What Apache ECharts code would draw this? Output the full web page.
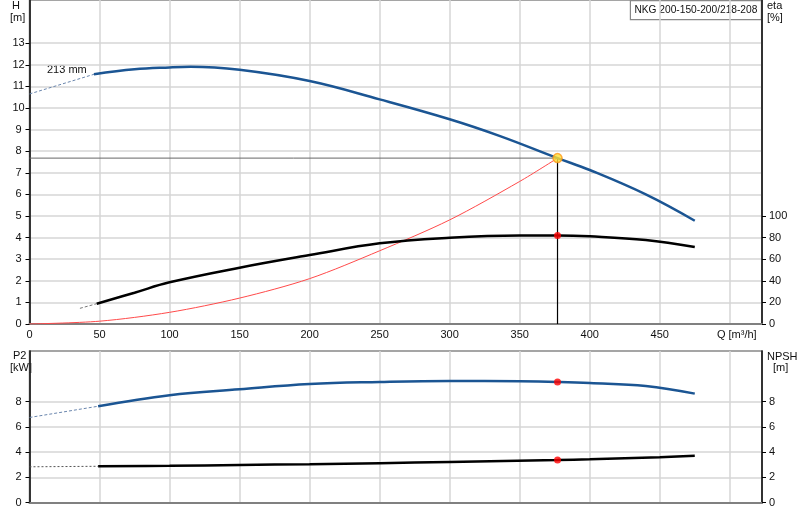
<!DOCTYPE html>
<html>
<head>
<meta charset="utf-8">
<script src="https://cdn.jsdelivr.net/npm/echarts@6/dist/echarts.min.js"></script>
<style>
  html, body { margin: 0; padding: 0; background: #fff; }
  #chart { width: 800px; height: 520px; }
</style>
</head>
<body>
<div id="chart"></div>
<script>
// pump curve data, Q in m3/h
var qH = [46, 75, 100, 115, 150, 200, 250, 300, 336, 377, 400, 440, 475];
var hVal = [11.56, 11.79, 11.88, 11.91, 11.77, 11.25, 10.4, 9.48, 8.7, 7.68, 7.13, 6.0, 4.78];
var qHExt = [0, 46];
var hExt = [10.65, 11.56];

var qEta = [48, 75, 100, 150, 200, 250, 300, 350, 377, 400, 440, 475];
var etaVal = [18.8, 29, 38.6, 52.1, 63.8, 74.7, 79.9, 82, 82, 81.2, 77.8, 71.3];
var qEtaExt = [36, 48];
var etaExt = [14.5, 18.8];

var qSys = [0, 50, 100, 150, 200, 250, 300, 350, 377];
var hSys = [0, 0.13, 0.54, 1.2, 2.1, 3.39, 4.82, 6.6, 7.68];

var qP2 = [49, 100, 150, 200, 250, 300, 350, 377, 400, 440, 475];
var p2Val = [7.63, 8.5, 8.97, 9.39, 9.55, 9.63, 9.6, 9.55, 9.47, 9.24, 8.63];
var qP2Ext = [0, 49];
var p2Ext = [6.74, 7.63];

var qNpsh = [49, 100, 150, 200, 250, 300, 377, 400, 450, 475];
var npshVal = [2.88, 2.92, 2.98, 3.05, 3.13, 3.22, 3.37, 3.43, 3.6, 3.71];
var qNpshExt = [0, 49];
var npshExt = [2.84, 2.88];

// duty point
var dutyQ = 377, dutyH = 7.68, dutyEta = 82, dutyP2 = 9.55, dutyNpsh = 3.37;

var hTicks = [0, 1, 2, 3, 4, 5, 6, 7, 8, 9, 10, 11, 12, 13];
var etaTicks = [0, 20, 40, 60, 80, 100];
var lowTicks = [0, 2, 4, 6, 8];

function pairs(xs, ys) {
    var res = [];
    for (var i = 0; i < xs.length; i++) res.push([xs[i], ys[i]]);
    return res;
}

var FONT = '"Liberation Sans", Arial, sans-serif';
var BLUE = '#1b5593';
var gridLine = { show: true, lineStyle: { color: '#d6d6d6', width: 1.5 } };
var lbl = { color: '#111', fontSize: 11, fontFamily: FONT };

var myChart = echarts.init(document.getElementById('chart'));
var option = {
    animation: false,
    grid: [
        { left: 29.5, right: 38, top: 0, height: 324, show: true, borderColor: '#888', borderWidth: 1.5 },
        { left: 29.5, right: 38, top: 351, height: 151.7, show: true, borderColor: '#888', borderWidth: 1.5 }
    ],
    xAxis: [
        {
            gridIndex: 0, type: 'value', min: 0, max: 523, interval: 50,
            axisLine: { lineStyle: { color: '#808080', width: 2 } },
            axisTick: { show: false },
            splitLine: gridLine,
            axisLabel: Object.assign({}, lbl, {
                margin: 5,
                customValues: [0, 50, 100, 150, 200, 250, 300, 350, 400, 450, 505],
                formatter: function (v) {
                    if (v > 450) return 'Q [m³/h]';
                    return v % 50 === 0 ? v : '';
                }
            })
        },
        {
            gridIndex: 1, type: 'value', min: 0, max: 523, interval: 50,
            axisLine: { lineStyle: { color: '#808080', width: 2 } },
            axisTick: { show: false },
            axisLabel: { show: false },
            splitLine: gridLine
        }
    ],
    yAxis: [
        {
            gridIndex: 0, type: 'value', min: 0, max: 15, interval: 1, position: 'left',
            axisLine: { show: true, lineStyle: { color: '#000', width: 1.5 } },
            axisTick: { show: true, length: 4, lineStyle: { color: '#000' }, customValues: hTicks },
            axisLabel: Object.assign({}, lbl, {
                margin: 11, align: 'center', customValues: hTicks,
                formatter: function (v) { return v <= 13 ? v : ''; }
            }),
            splitLine: gridLine
        },
        {
            gridIndex: 0, type: 'value', min: 0, max: 300, interval: 20, position: 'right',
            axisLine: { show: true, lineStyle: { color: '#000', width: 1.5 } },
            axisTick: { show: true, length: 4, lineStyle: { color: '#000' }, customValues: etaTicks },
            axisLabel: Object.assign({}, lbl, {
                margin: 7, customValues: etaTicks,
                formatter: function (v) { return v <= 100 ? v : ''; }
            }),
            splitLine: { show: false }
        },
        {
            gridIndex: 1, type: 'value', min: 0, max: 12, interval: 2, position: 'left',
            axisLine: { show: true, lineStyle: { color: '#000', width: 1.5 } },
            axisTick: { show: true, length: 4, lineStyle: { color: '#000' }, customValues: lowTicks },
            axisLabel: Object.assign({}, lbl, {
                margin: 11, align: 'center', customValues: lowTicks,
                formatter: function (v) { return v <= 8 ? v : ''; }
            }),
            splitLine: gridLine
        },
        {
            gridIndex: 1, type: 'value', min: 0, max: 12, interval: 2, position: 'right',
            axisLine: { show: true, lineStyle: { color: '#000', width: 1.5 } },
            axisTick: { show: true, length: 4, lineStyle: { color: '#000' }, customValues: lowTicks },
            axisLabel: Object.assign({}, lbl, {
                margin: 7, customValues: lowTicks,
                formatter: function (v) { return v <= 8 ? v : ''; }
            }),
            splitLine: { show: false }
        }
    ],
    graphic: [
        { type: 'text', left: 12, top: 0, style: { text: 'H', font: '11px ' + FONT, fill: '#111' } },
        { type: 'text', left: 10, top: 12, style: { text: '[m]', font: '11px ' + FONT, fill: '#111' } },
        { type: 'text', left: 767, top: 0, style: { text: 'eta', font: '11px ' + FONT, fill: '#111' } },
        { type: 'text', left: 767, top: 12, style: { text: '[%]', font: '11px ' + FONT, fill: '#111' } },
        { type: 'text', left: 13, top: 350, style: { text: 'P2', font: '11px ' + FONT, fill: '#111' } },
        { type: 'text', left: 10, top: 362, style: { text: '[kW]', font: '11px ' + FONT, fill: '#111' } },
        { type: 'text', left: 767, top: 351, style: { text: 'NPSH', font: '11px ' + FONT, fill: '#111' } },
        { type: 'text', left: 773, top: 362, style: { text: '[m]', font: '11px ' + FONT, fill: '#111' } },
        { type: 'text', left: 47, top: 64, style: { text: '213 mm', font: '11px ' + FONT, fill: '#111' } },
        {
            type: 'group', right: 38, top: 0, z: 100, children: [
                { type: 'rect', shape: { x: 0, y: 0, width: 131, height: 19 }, style: { fill: '#fff', stroke: '#888', lineWidth: 1.2 } },
                { type: 'text', x: 65.5, y: 10, style: { text: 'NKG 200-150-200/218-208', font: '10.2px ' + FONT, fill: '#111', align: 'center', verticalAlign: 'middle' } }
            ]
        }
    ],
    series: [
        {
            type: 'line', xAxisIndex: 0, yAxisIndex: 0, data: pairs(qSys, hSys),
            smooth: 0.3, showSymbol: false, lineStyle: { color: '#ff4a4a', width: 1 }
        },
        {
            type: 'line', xAxisIndex: 0, yAxisIndex: 0, data: [[0, dutyH], [dutyQ, dutyH]],
            showSymbol: false, lineStyle: { color: '#666', width: 1 }
        },
        {
            type: 'line', xAxisIndex: 0, yAxisIndex: 0, data: [[dutyQ, dutyH], [dutyQ, 0]],
            showSymbol: false, lineStyle: { color: '#000', width: 1.2 }
        },
        {
            type: 'line', xAxisIndex: 0, yAxisIndex: 0, data: pairs(qHExt, hExt),
            showSymbol: false, lineStyle: { color: '#6a86ad', width: 1, type: [3, 2] }
        },
        {
            type: 'line', xAxisIndex: 0, yAxisIndex: 0, data: pairs(qH, hVal),
            smooth: 0.4, showSymbol: false, lineStyle: { color: BLUE, width: 2.5 }
        },
        {
            type: 'line', xAxisIndex: 0, yAxisIndex: 1, data: pairs(qEtaExt, etaExt),
            showSymbol: false, lineStyle: { color: '#777', width: 1, type: [3, 2] }
        },
        {
            type: 'line', xAxisIndex: 0, yAxisIndex: 1, data: pairs(qEta, etaVal),
            smooth: 0.4, showSymbol: false, lineStyle: { color: '#000', width: 2.5 }
        },
        {
            type: 'scatter', xAxisIndex: 0, yAxisIndex: 0, data: [[dutyQ, dutyH]], symbolSize: 9, z: 10,
            itemStyle: { color: '#ffe033', borderColor: '#ff9a1a', borderWidth: 1.5 }
        },
        {
            type: 'scatter', xAxisIndex: 0, yAxisIndex: 1, data: [[dutyQ, dutyEta]], symbolSize: 7, z: 10,
            itemStyle: { color: '#ff0000' }
        },
        {
            type: 'line', xAxisIndex: 1, yAxisIndex: 2, data: pairs(qP2Ext, p2Ext),
            showSymbol: false, lineStyle: { color: '#6a86ad', width: 1, type: [3, 2] }
        },
        {
            type: 'line', xAxisIndex: 1, yAxisIndex: 2, data: pairs(qP2, p2Val),
            smooth: 0.4, showSymbol: false, lineStyle: { color: BLUE, width: 2.5 }
        },
        {
            type: 'line', xAxisIndex: 1, yAxisIndex: 3, data: pairs(qNpshExt, npshExt),
            showSymbol: false, lineStyle: { color: '#555', width: 1, type: [2, 2] }
        },
        {
            type: 'line', xAxisIndex: 1, yAxisIndex: 3, data: pairs(qNpsh, npshVal),
            smooth: 0.4, showSymbol: false, lineStyle: { color: '#000', width: 2.5 }
        },
        {
            type: 'scatter', xAxisIndex: 1, yAxisIndex: 2, data: [[dutyQ, dutyP2]], symbolSize: 7, z: 10,
            itemStyle: { color: '#ff0000' }
        },
        {
            type: 'scatter', xAxisIndex: 1, yAxisIndex: 3, data: [[dutyQ, dutyNpsh]], symbolSize: 7, z: 10,
            itemStyle: { color: '#ff0000' }
        }
    ]
};
myChart.setOption(option);
window.addEventListener('resize', function () {
    myChart.resize();
});
</script>
</body>
</html>
